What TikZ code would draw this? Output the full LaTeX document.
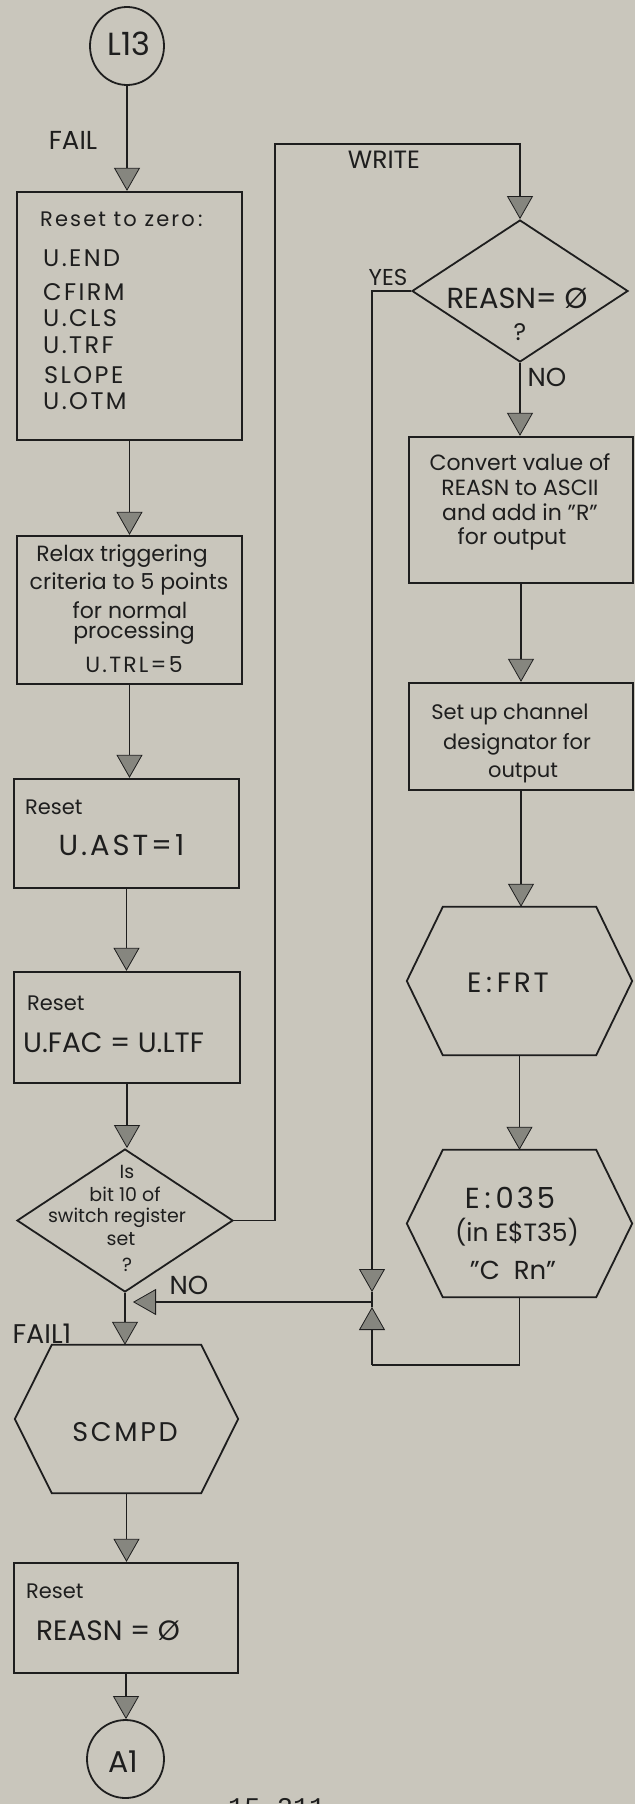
\documentclass[tikz,border=0pt]{standalone}
\usepackage{fontspec}
\setmainfont{Poppins}
\setmonofont{Liberation Mono}
\newfontfamily\widefont[LetterSpace=10]{Poppins}
\usetikzlibrary{arrows.meta,shapes.geometric}
\definecolor{bg}{HTML}{C9C6BC}
\definecolor{ink}{HTML}{1E1E1E}
\definecolor{tipgray}{HTML}{86867F}
\tikzset{
  ln/.style={draw=ink, line width=1.8pt},
  arr/.style={ln, -{Triangle[width=26pt,length=23pt,fill=tipgray,line width=0.8pt]}},
  box/.style={rectangle, draw=ink, line width=2.3pt, inner sep=0pt},
  hexa/.style={rectangle, inner sep=0pt},
  dia/.style={diamond, draw=ink, line width=1.8pt, inner sep=0pt},
  term/.style={ellipse, draw=ink, line width=1.8pt, inner sep=0pt},
  tf/.style={font=\fontsize{#1pt}{#1pt}\selectfont, text=ink, inner sep=0pt,
             text height={0.7*#1pt}, text depth=0pt},
  tw/.style={font=\widefont\fontsize{#1pt}{#1pt}\selectfont, text=ink, inner sep=0pt,
             text height={0.7*#1pt}, text depth=0pt},
}
\newcommand\drawhexagon[2]{%
  \draw[ln] (#1.west) -- ([xshift=#2]#1.north west) -- ([xshift=-#2]#1.north east)
    -- (#1.east) -- ([xshift=-#2]#1.south east) -- ([xshift=#2]#1.south west) -- cycle;}
\begin{document}
\begin{tikzpicture}[x=1pt,y=-1pt]
\fill[bg] (0,0) rectangle (635,1804);
\useasboundingbox (0,0) rectangle (635,1804);

% ---------- left column ----------
\node[term, minimum width=74pt, minimum height=78pt] (L13) at (127,46) {};
\node[tf=32] (tL13) at (129,44) {L13};
\node[tf=26] (tfail) at (73,140) {FAIL};

\node[box, minimum width=225pt, minimum height=248pt] (b1) at (129.5,316) {};
\node[tw=21, anchor=west] (b1a) at (40,219) {Reset to zero\,:};
\node[tw=24, anchor=west] (b1b) at (43,258) {U.END};
\node[tw=24, anchor=west] (b1c) at (43,292) {CFIRM};
\node[tw=24, anchor=west] (b1d) at (43,318) {U.CLS};
\node[tw=24, anchor=west] (b1e) at (43,345) {U.TRF};
\node[tw=24, anchor=west] (b1f) at (44,375) {SLOPE};
\node[tw=24, anchor=west] (b1g) at (43,401) {U.OTM};

\node[box, minimum width=225pt, minimum height=148pt] (b2) at (129.5,610) {};
\node[tf=22] (b2a) at (122,554) {Relax\ triggering};
\node[tf=22] (b2b) at (129,582) {criteria to 5 points};
\node[tf=22] (b2c) at (130,611) {for\ normal};
\node[tf=22] (b2d) at (134,631) {processing};
\node[tw=22] (b2e) at (134,665) {U.TRL=5};

\node[box, minimum width=225pt, minimum height=109pt] (b3) at (126.5,833.5) {};
\node[tf=21, anchor=west] (b3a) at (25,807) {Reset};
\node[tw=29] (b3b) at (121.5,845) {U.AST=1};

\node[box, minimum width=226pt, minimum height=111pt] (b4) at (127,1027.5) {};
\node[tf=21, anchor=west] (b4a) at (27,1003) {Reset};
\node[tf=28, anchor=west] (b4b) at (23,1043) {U.FAC = U.LTF};

\node[dia, minimum width=216pt, minimum height=143pt] (d1) at (125,1220.5) {};
\node[tf=19] (d1a) at (127,1172) {Is};
\node[tf=19] (d1b) at (125,1195) {bit 10 of};
\node[tf=19] (d1c) at (117,1216) {switch register};
\node[tf=19] (d1d) at (121,1239) {set};
\node[tf=19] (d1e) at (127,1265) {?};
\node[tf=26] (tno1) at (189,1285) {NO};

\node[hexa, minimum width=223pt, minimum height=148pt] (h3) at (126.5,1419) {};
\drawhexagon{h3}{37pt}
\node[tw=27] (h3t) at (125,1432) {SCMPD};
\node[tf=27] (tfail1) at (42,1334) {FAIL1};

\node[box, minimum width=224pt, minimum height=110pt] (b5) at (126,1618) {};
\node[tf=21, anchor=west] (b5a) at (26,1591) {Reset};
\node[tf=28, anchor=west] (b5b) at (36,1631) {REASN = Ø};

\node[term, minimum width=77pt, minimum height=78pt] (A1) at (125.5,1759) {};
\node[tf=30] (tA1) at (123,1762) {A1};

\node[font=\ttfamily\fontsize{27pt}{27pt}\selectfont, text=ink, anchor=north west,
      inner sep=0pt, text height=18pt, text depth=0pt] (pg) at (228,1798) {15-211};

% ---------- right column ----------
\node[tf=25] (twrite) at (384,160) {WRITE};
\node[dia, minimum width=216pt, minimum height=142pt] (d2) at (520,291) {};
\node[tf=29] (d2a) at (517,298) {REASN= Ø};
\node[tf=24] (d2b) at (520,332) {?};
\node[tf=23] (tyes) at (388,277) {YES};
\node[tf=26] (tno2) at (547,377) {NO};

\node[box, minimum width=224pt, minimum height=146pt] (b6) at (521,510) {};
\node[tf=22] (b6a) at (520,463) {Convert value of};
\node[tf=22] (b6b) at (520,488) {REASN to ASCII};
\node[tf=22] (b6c) at (520,513) {and add in ''R''};
\node[tf=22] (b6d) at (512,537) {for output};

\node[box, minimum width=224pt, minimum height=107pt] (b7) at (521,736.5) {};
\node[tf=21] (b7a) at (510,712) {Set up channel};
\node[tf=21] (b7b) at (517,742) {designator for};
\node[tf=21] (b7c) at (523,770) {output};

\node[hexa, minimum width=225pt, minimum height=148pt] (h1) at (519.5,981) {};
\drawhexagon{h1}{36pt}
\node[tw=28] (h1t) at (508,983) {E\,:\,FRT};

\node[hexa, minimum width=225pt, minimum height=147pt] (h2) at (519.5,1223.5) {};
\drawhexagon{h2}{36pt}
\node[tw=29] (h2a) at (510,1198) {E\,:\,035};
\node[tf=25] (h2b) at (517,1233) {(in E\$T35)};
\node[tf=26] (h2c) at (513,1270) {''C\ \ Rn''};

% ---------- connectors ----------
\coordinate (wA) at (275,144);
\coordinate (Jt) at (372,1292);
\coordinate (J) at (372,1302);
\coordinate (Ju) at (372,1307);
\coordinate (Lb) at (372,1365);
\coordinate (Jl) at (133,1302);

\draw[arr] (L13.south) -- (L13.south |- b1.north);
\draw[arr] (b1.south) -- (b1.south |- b2.north);
\draw[arr] (b2.south) -- (b2.south |- b3.north);
\draw[arr] (b3.south) -- (b3.south |- b4.north);
\draw[arr] (b4.south) -- (b4.south |- d1.north);
\draw[arr] (d1.south) -- (d1.south |- h3.north);
\draw[arr] (h3.south) -- (h3.south |- b5.north);
\draw[arr] (b5.south) -- (b5.south |- A1.north);

\draw[arr] (d1.east) -| (wA) -| (d2.north);
\draw[arr] (d2.south) -- (d2.south |- b6.north);
\draw[arr] (b6.south) -- (b6.south |- b7.north);
\draw[arr] (b7.south) -- (b7.south |- h1.north);
\draw[arr] (h1.south) -- (h1.south |- h2.north);

\draw[arr] (d2.west) -| (Jt);
\draw[ln] (Jt) -- (J);
\draw[ln] (h2.south) -- (h2.south |- Lb) -- (Lb);
\draw[arr] (Lb) -- (Ju);
\draw[ln] (Ju) -- (J);
\draw[arr] (J) -- (Jl);
\end{tikzpicture}
\end{document}
